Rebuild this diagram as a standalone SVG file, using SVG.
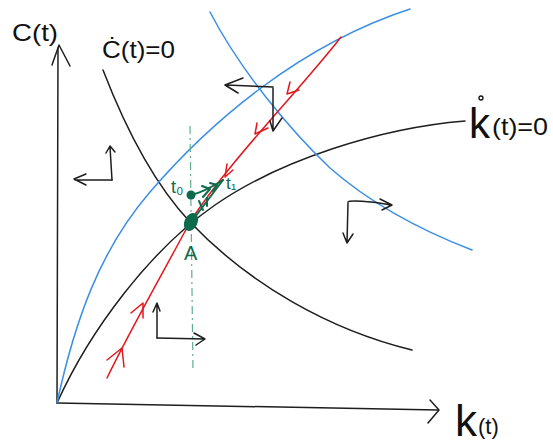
<svg xmlns="http://www.w3.org/2000/svg" width="553" height="447" viewBox="0 0 553 447">
<style>
.k{fill:none;stroke:#1e1e1e;stroke-width:1.5;stroke-linecap:round;stroke-linejoin:round}
.b{fill:none;stroke:#3b8fe6;stroke-width:1.5;stroke-linecap:round}
.r{fill:none;stroke:#e2161c;stroke-width:1.5;stroke-linecap:round;stroke-linejoin:round}
.g{fill:none;stroke:#0d6b4c;stroke-width:2;stroke-linecap:round;stroke-linejoin:round}
.t{font-family:"Liberation Sans",Arial,sans-serif;fill:#111}
.tg{font-family:"Liberation Sans",Arial,sans-serif;fill:#0d6b4c}
</style>
<rect width="553" height="447" fill="#fff"/>
<g id="axes">
<path class="k" d="M57,403 L58,48"/>
<path class="k" d="M52,65 L59,45 L70,66"/>
<path class="k" d="M57,403 L438,410"/>
<path class="k" d="M430,400 L439,410 L428,423"/>
</g>
<g id="curves">
<path class="k" d="M103,70 C130,140 160,190 190,222 C250,285 330,330 412,350"/>
<path class="k" d="M57,403 C90,330 150,250 215,205 S380,128 465,121"/>
<path class="b" d="M57,403 C75,320 100,250 150,192 C210,122 300,45 410,9"/>
<path class="b" d="M210,12 C240,70 290,130 330,168 C370,203 420,230 472,250"/>
</g>
<g id="saddle-path">
<path class="r" d="M107,378 C130,330 170,260 190,222 C230,160 300,90 341,37"/>
<path class="r" d="M131,313 L143,303 L143,318"/>
<path class="r" d="M107,360 L122,348 L124,367"/>
<path class="r" d="M290,82 L287,94 L299,90"/>
<path class="r" d="M257,123 L255,134 L268,128"/>
<path class="r" d="M227,164 L225,177 L233,170"/>
</g>
<g id="phase-arrows">
<path class="k" d="M112,180 L110,147 M106,153 L110,146 L115,152"/>
<path class="k" d="M112,180 L75,180 M86,174 L74,179 L86,185"/>
<path class="k" d="M273,87 L226,85 M243,78 L225,85 L238,93"/>
<path class="k" d="M273,88 L273,131 M270,121 L273,131 L282,118"/>
<path class="k" d="M348,202 C349,200 370,201 391,205 M380,199 L392,205 L382,210"/>
<path class="k" d="M348,203 L347,243 M343,233 L347,243 L353,234"/>
<path class="k" d="M157,338 L157,304 M153,312 L157,303 L160,311"/>
<path class="k" d="M157,338 L205,339 M194,333 L205,339 L196,345"/>
</g>
<g id="adjustment">
<path d="M190,126 L193,372" fill="none" stroke="#5fae8e" stroke-width="1.2" stroke-dasharray="8,4,2,4"/>
<ellipse cx="191" cy="222" rx="6.5" ry="9.5" transform="rotate(25 191 222)" fill="#0d6b4c"/>
<circle cx="191" cy="195" r="4.5" fill="#0d6b4c"/>
<path class="g" stroke-width="4" d="M191,195 C200,193 212,187 223,180"/>
<path class="g" stroke-width="2.5" d="M223,180 L195,217"/>
<path class="g" stroke-width="1.5" d="M202,186 L210,189 L203,197 M210,183 L217,185 L213,191 M199,201 L203,210 M207,198 L207,206"/>
</g>
<g id="labels">
<text class="t" x="12" y="41" font-size="24" textLength="46" lengthAdjust="spacingAndGlyphs">C(t)</text>
<text class="t" x="102" y="58" font-size="24" textLength="73" lengthAdjust="spacingAndGlyphs">Ċ(t)=0</text>
<circle cx="481" cy="98" r="2" fill="none" stroke="#111" stroke-width="1.3"/>
<text class="t" x="469" y="138" font-size="42">k</text>
<text class="t" x="492" y="135" font-size="24" textLength="56" lengthAdjust="spacingAndGlyphs">(t)=0</text>
<text class="t" x="455" y="436" font-size="44">k</text>
<text class="t" x="478" y="434" font-size="22">(t)</text>
<text class="tg" x="184" y="260" font-size="20">A</text>
<text class="tg" x="171" y="193" font-size="18">t₀</text>
<text class="tg" x="226" y="189" font-size="17">t₁</text>
</g>
</svg>
